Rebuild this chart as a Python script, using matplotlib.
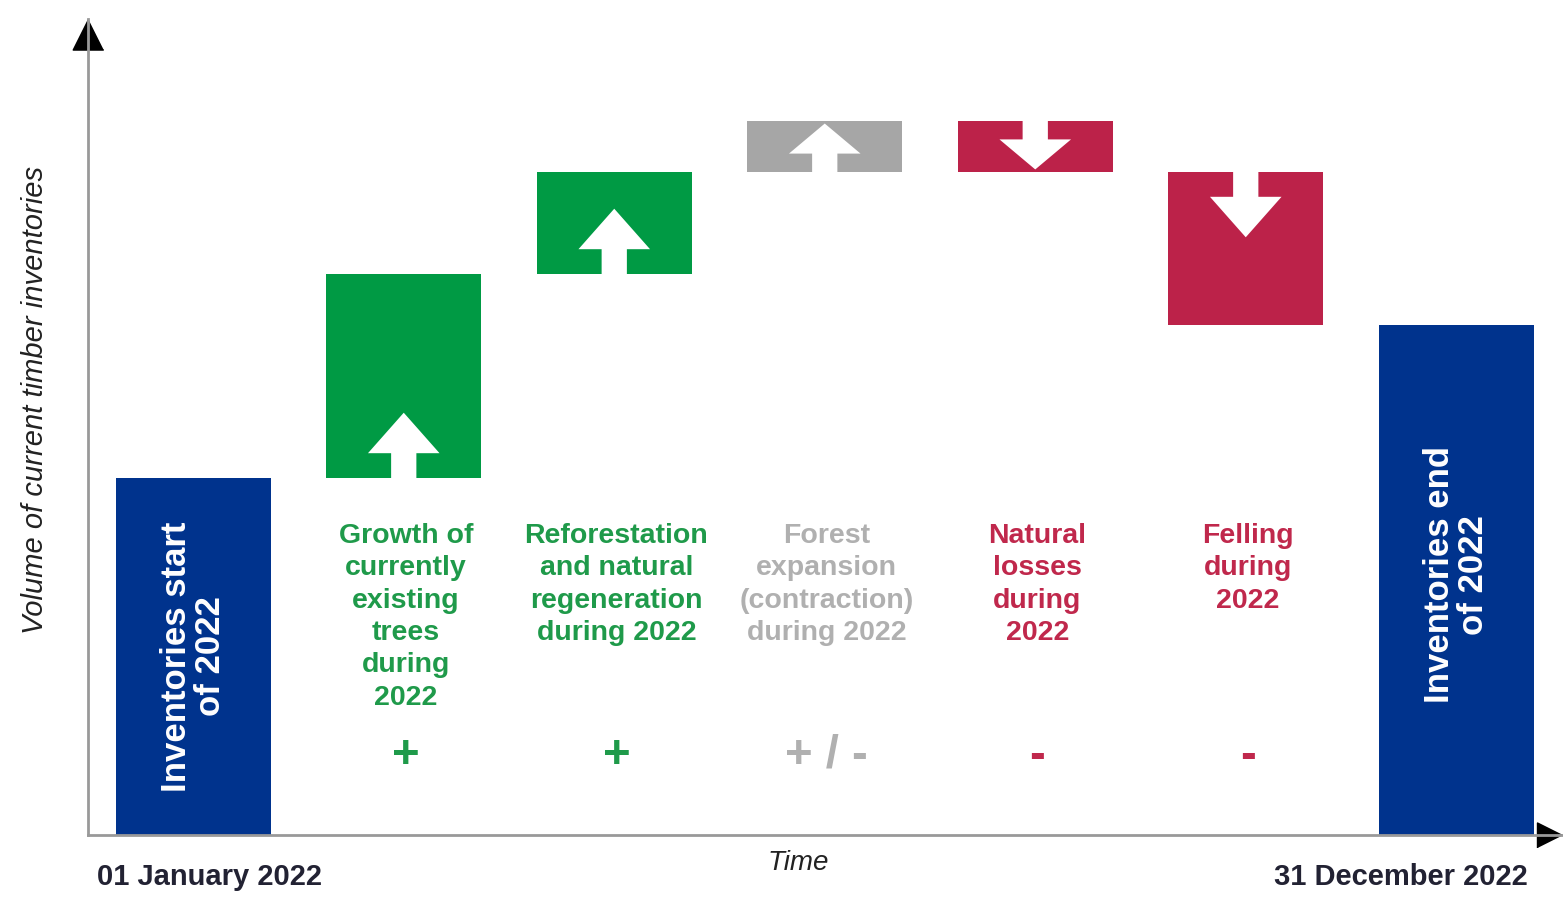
import matplotlib.pyplot as plt
import numpy as np

# waterfall of timber inventories over 2022 (arbitrary units)
labels = ["Inventories start\nof 2022",
          "Growth of\ncurrently\nexisting\ntrees\nduring\n2022",
          "Reforestation\nand natural\nregeneration\nduring 2022",
          "Forest\nexpansion\n(contraction)\nduring 2022",
          "Natural\nlosses\nduring\n2022",
          "Felling\nduring\n2022",
          "Inventories end\nof 2022"]
start_value = 7
changes = [4, 2, 1, -1, -3]
signs = ["+", "+", "+ / -", "-", "-"]

navy = '#00338d'
bar_colors = ['#009a44', '#009a44', '#a6a6a6', '#bc2249', '#bc2249']
text_colors = ['#1f9a4a', '#1f9a4a', '#b0b0b0', '#c0284c', '#c0284c']

plt.rcParams['font.family'] = ['Liberation Sans', 'DejaVu Sans']

fig = plt.figure(figsize=(15.63, 9.01), dpi=100)
ax = fig.add_axes([88/1563, 66/901, 1473.5/1563, 816/901])
ax.set_xlim(-0.5, 6.5)
ax.set_ylim(0, 16)

w = 0.736
end_value = start_value + sum(changes)

# start / end bars
ax.bar(0, start_value, width=w, color=navy)
ax.bar(6, end_value, width=w, color=navy)
ax.text(0, start_value/2, labels[0], rotation=90, ha='center', va='center',
        color='white', fontsize=25, fontweight='bold', linespacing=1.05)
ax.text(6, end_value/2 + 0.1, labels[6], rotation=90, ha='center', va='center',
        color='white', fontsize=25, fontweight='bold', linespacing=1.05)

level = start_value
for i, d in enumerate(changes):
    x = i + 1
    bottom = level if d > 0 else level + d
    ax.bar(x, abs(d), bottom=bottom, width=w, color=bar_colors[i])
    # white arrow inside the bar
    length = min(1.28, 0.95*abs(d))
    hl = 0.62*length
    if d > 0:
        ax.arrow(x, level, 0, length, width=0.12, head_width=0.34, head_length=hl,
                 length_includes_head=True, fc='white', ec='none')
    else:
        ax.arrow(x, level, 0, -length, width=0.12, head_width=0.34, head_length=hl,
                 length_includes_head=True, fc='white', ec='none')
    level += d
    ax.text(x + 0.01, 6.12, labels[x], ha='center', va='top', color=text_colors[i],
            fontsize=20.5, fontweight='bold', linespacing=1.32)
    ax.text(x + 0.01, 1.55, signs[i], ha='center', va='center', color=text_colors[i],
            fontsize=34, fontweight='bold')

# axes styling
for s in ['top', 'right']:
    ax.spines[s].set_visible(False)
for s in ['left', 'bottom']:
    ax.spines[s].set_color('#999999')
    ax.spines[s].set_linewidth(2)
ax.set_xticks([])
ax.set_yticks([])

# arrow heads on axes
ax.plot(0, 1, marker=[(0, 0), (-0.5, -1), (0.5, -1)], ms=44, color='black',
        transform=ax.transAxes, clip_on=False)
ax.plot(1, 0, marker=[(0, 0), (-1, 0.5), (-1, -0.5)], ms=36, color='black',
        transform=ax.transAxes, clip_on=False)

fig.text(35/1563, 1 - 400/901, "Volume of current timber inventories", rotation=90,
         ha='center', va='center', fontsize=21, style='italic', color='#222222')
fig.text(798/1563, 1 - 863/901, "Time", ha='center', va='center', fontsize=20,
         style='italic', color='#222222')
fig.text(97/1563, 1 - 877/901, "01 January 2022", ha='left', va='center', fontsize=21,
         fontweight='bold', color='#222233')
fig.text(1528/1563, 1 - 877/901, "31 December 2022", ha='right', va='center', fontsize=21,
         fontweight='bold', color='#222233')

plt.savefig('out.png', dpi=100)
